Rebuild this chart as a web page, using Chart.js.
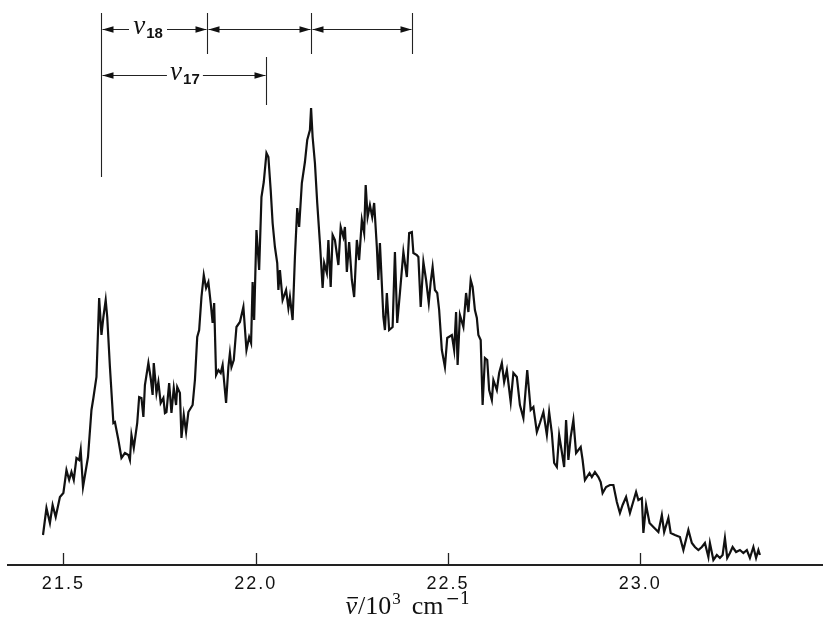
<!DOCTYPE html>
<html><head><meta charset="utf-8">
<script src="https://cdn.jsdelivr.net/npm/chart.js@4.4.1/dist/chart.umd.min.js"></script>
<style>html,body{margin:0;padding:0;background:#fff;overflow:hidden}canvas{display:block}</style>
</head><body><canvas id="c" width="823" height="631"></canvas>
<script>
// wavenumber in cm^-1
const wavenumber = [21447,21452,21456,21465,21472,21480,21491,21500,21508,21515,21521,21527,21534,21541,21545,21551,21564,21573,21578,21586,21593,21599,21604,21610,21614,21621,21630,21634,21643,21651,21660,21669,21673,21677,21683,21692,21697,21703,21708,21712,21721,21727,21732,21735,21742,21747,21753,21760,21764,21768,21775,21781,21787,21793,21796,21803,21807,21813,21819,21825,21836,21842,21848,21853,21859,21865,21871,21877,21883,21888,21892,21897,21903,21909,21914,21923,21929,21933,21937,21943,21950,21959,21968,21976,21983,21988,21992,21996,22002,22009,22015,22021,22028,22033,22039,22044,22050,22056,22059,22063,22070,22079,22085,22089,22096,22102,22108,22113,22120,22128,22134,22141,22144,22148,22154,22160,22167,22174,22178,22185,22189,22195,22200,22206,22215,22221,22228,22232,22237,22243,22250,22256,22263,22269,22276,22282,22286,22291,22297,22303,22308,22315,22319,22323,22332,22336,22341,22347,22356,22362,22368,22375,22384,22393,22399,22406,22410,22419,22423,22429,22436,22443,22450,22455,22460,22466,22472,22477,22484,22492,22498,22510,22516,22521,22525,22531,22540,22547,22553,22559,22564,22570,22575,22579,22585,22590,22596,22602,22607,22614,22618,22627,22633,22640,22646,22653,22663,22670,22679,22687,22696,22706,22715,22722,22731,22739,22748,22757,22763,22770,22776,22783,22789,22796,22802,22807,22813,22819,22826,22833,22839,22845,22850,22856,22868,22874,22882,22891,22897,22902,22911,22921,22930,22939,22947,22954,22963,22973,22989,22995,23004,23008,23015,23024,23034,23047,23056,23062,23073,23079,23090,23103,23112,23125,23134,23142,23151,23160,23168,23177,23181,23190,23199,23207,23214,23220,23226,23233,23240,23249,23259,23268,23277,23285,23294,23301,23307,23311];
// intensity, arbitrary units
const intensity = [30,45,57,42,60,48,68,72,95,85,93,85,107,105,115,78,108,155,167,188,267,230,248,265,248,198,142,143,125,107,112,110,105,130,117,142,168,167,148,180,202,187,170,202,172,183,162,167,152,153,182,152,177,160,178,172,127,150,133,153,160,185,228,235,268,290,277,283,262,242,262,190,195,192,200,162,198,212,198,205,238,243,258,215,228,222,283,245,335,295,368,383,412,408,375,342,318,302,275,295,265,275,257,268,245,308,357,338,382,403,425,435,457,428,402,362,322,277,302,292,325,278,330,325,300,338,328,338,293,323,285,268,325,305,345,332,380,348,360,348,362,318,285,322,248,235,272,235,238,313,242,272,313,288,332,333,312,310,308,258,303,285,262,283,298,275,272,255,215,198,227,230,215,253,200,250,238,272,253,285,278,255,247,230,225,160,207,205,175,165,185,175,192,202,183,195,163,192,188,160,147,195,155,158,133,142,153,130,153,132,102,98,130,113,98,145,105,128,145,112,115,118,105,85,92,88,93,88,83,72,78,80,80,63,52,60,68,52,73,65,67,32,60,42,38,33,50,33,47,32,30,28,15,35,22,18,15,18,22,8,22,5,10,7,10,27,7,12,18,13,15,12,15,7,18,7,15,10];

const xMin = 21356, xMax = 23475;
const yMin = 0, yMax = 565;
const tickValues = [21500, 22000, 22500, 23000];
const tickLabels = ['21.5', '22.0', '22.5', '23.0'];

// progression markers (cm^-1)
const nu18Marks = [21598, 21874, 22144, 22406];
const nu17Marks = [21598, 22028];
const nu18LabelAt = 21720;
const nu17LabelAt = 21816;

const SERIF = '"Liberation Serif", "DejaVu Serif", serif';
const SANS = '"Liberation Sans", Arial, sans-serif';

const textSpacing = {
  id: 'textSpacing',
  beforeDraw(chart) { chart.ctx.letterSpacing = '2px'; },
  afterDatasetsDraw(chart) { chart.ctx.letterSpacing = '0px'; }
};

const tickMarks = {
  id: 'tickMarks',
  afterDraw(chart) {
    const {ctx, chartArea} = chart;
    const xs = chart.scales.x;
    ctx.save();
    ctx.strokeStyle = '#222';
    ctx.lineWidth = 1.3;
    tickValues.forEach(v => {
      const px = Math.round(xs.getPixelForValue(v)) + 0.5;
      ctx.beginPath();
      ctx.moveTo(px, chartArea.bottom);
      ctx.lineTo(px, chartArea.bottom - 12);
      ctx.stroke();
    });
    ctx.restore();
  }
};

// x-axis title: nu-bar / 10^3 cm^-1, drawn as text pieces
const axisTitle = {
  id: 'axisTitle',
  afterDraw(chart) {
    const ctx = chart.ctx;
    ctx.save();
    ctx.letterSpacing = '0px';
    ctx.fillStyle = '#111';
    ctx.textBaseline = 'alphabetic';
    ctx.textAlign = 'left';
    const base = 614;
    const parts = [
      {t: 'ν', f: 'italic 26px ' + SERIF, dy: 0, bar: true, after: 1},
      {t: '/10', f: '26px ' + SERIF, dy: 0, after: 1},
      {t: '3', f: '17px ' + SERIF, dy: -10, after: 11},
      {t: 'cm', f: '26px ' + SERIF, dy: 0, after: 2},
      {t: '−1', f: '17px "DejaVu Serif", ' + SERIF, dy: -10, after: 0}
    ];
    let total = 0;
    parts.forEach(p => { ctx.font = p.f; p.w = ctx.measureText(p.t).width; total += p.w + p.after; });
    let x = 408 - total / 2;
    parts.forEach(p => {
      ctx.font = p.f;
      ctx.fillText(p.t, x, base + p.dy);
      if (p.bar) {
        ctx.fillRect(x + 2, base - 17, p.w - 1, 1.4);
      }
      x += p.w + p.after;
    });
    ctx.restore();
  }
};

const annotations = {
  id: 'annotations',
  afterDraw(chart) {
    const {ctx} = chart;
    const xs = chart.scales.x, ys = chart.scales.y;
    const X = v => Math.round(xs.getPixelForValue(v)) + 0.5;
    const Y = v => ys.getPixelForValue(v);
    ctx.save();
    ctx.letterSpacing = '0px';
    ctx.strokeStyle = '#222';
    ctx.fillStyle = '#111';
    ctx.lineWidth = 1.1;
    const vline = (xv, a, b) => {
      ctx.beginPath(); ctx.moveTo(X(xv), Y(a)); ctx.lineTo(X(xv), Y(b)); ctx.stroke();
    };
    const head = (tip, y, dir) => {
      ctx.beginPath();
      ctx.moveTo(tip, y);
      ctx.lineTo(tip + dir * 11, y - 3.2);
      ctx.lineTo(tip + dir * 11, y + 3.2);
      ctx.closePath(); ctx.fill();
    };
    const seg = (a, b, yv, gapAt, gapHalf) => {
      const x0 = X(a) + 1, x1 = X(b) - 1, y = Math.round(Y(yv)) + 0.5;
      ctx.beginPath();
      if (gapAt != null) {
        const g = xs.getPixelForValue(gapAt);
        ctx.moveTo(x0, y); ctx.lineTo(g - gapHalf, y);
        ctx.moveTo(g + gapHalf, y); ctx.lineTo(x1, y);
      } else {
        ctx.moveTo(x0, y); ctx.lineTo(x1, y);
      }
      ctx.stroke();
      head(x0, y, 1); head(x1, y, -1);
    };
    const label = (xv, yv, sub) => {
      const cx = xs.getPixelForValue(xv), y = Y(yv);
      const f1 = 'italic 27px ' + SERIF, f2 = 'bold 15px ' + SANS;
      ctx.font = f1;
      const w1 = ctx.measureText('ν').width;
      ctx.font = f2;
      const w2 = ctx.measureText(sub).width;
      const left = cx - (w1 + w2 + 1) / 2;
      ctx.textBaseline = 'alphabetic';
      ctx.textAlign = 'left';
      ctx.font = f1;
      ctx.fillText('ν', left, y + 5);
      ctx.font = f2;
      ctx.fillText(sub, left + w1 + 1, y + 9);
    };
    vline(nu18Marks[0], 552, 388);
    for (let i = 1; i < nu18Marks.length; i++) vline(nu18Marks[i], 552, 511);
    vline(nu17Marks[1], 508, 460);
    seg(nu18Marks[0], nu18Marks[1], 536, nu18LabelAt, 19);
    seg(nu18Marks[1], nu18Marks[2], 536);
    seg(nu18Marks[2], nu18Marks[3], 536);
    seg(nu17Marks[0], nu17Marks[1], 490, nu17LabelAt, 18);
    label(nu18LabelAt, 536, '18');
    label(nu17LabelAt, 490, '17');
    ctx.restore();
  }
};

const points = wavenumber.map((w, i) => ({x: w, y: intensity[i]}));

new Chart(document.getElementById('c'), {
  type: 'line',
  data: {
    datasets: [{
      data: points,
      borderColor: '#111',
      borderWidth: 2.2,
      pointRadius: 0,
      tension: 0,
      fill: false,
      clip: false
    }]
  },
  options: {
    responsive: false,
    animation: false,
    devicePixelRatio: 1,
    layout: {padding: {left: 8, right: 0, top: 0, bottom: 0}},
    plugins: {legend: {display: false}, tooltip: {enabled: false}, title: {display: false}},
    scales: {
      x: {
        type: 'linear',
        min: xMin, max: xMax,
        afterBuildTicks: s => { s.ticks = tickValues.map(v => ({value: v})); },
        afterFit: s => { s.height = 66; },
        grid: {display: false, drawTicks: false},
        border: {display: true, color: '#222', width: 2},
        ticks: {
          padding: 8,
          color: '#111',
          maxRotation: 0,
          autoSkip: false,
          font: {family: SANS, size: 18},
          callback: (v) => { const i = tickValues.indexOf(v); return i >= 0 ? tickLabels[i] : ''; }
        },
        title: {display: false}
      },
      y: {
        type: 'linear',
        display: false,
        min: yMin, max: yMax
      }
    }
  },
  plugins: [textSpacing, tickMarks, axisTitle, annotations]
});
</script>
</body></html>
